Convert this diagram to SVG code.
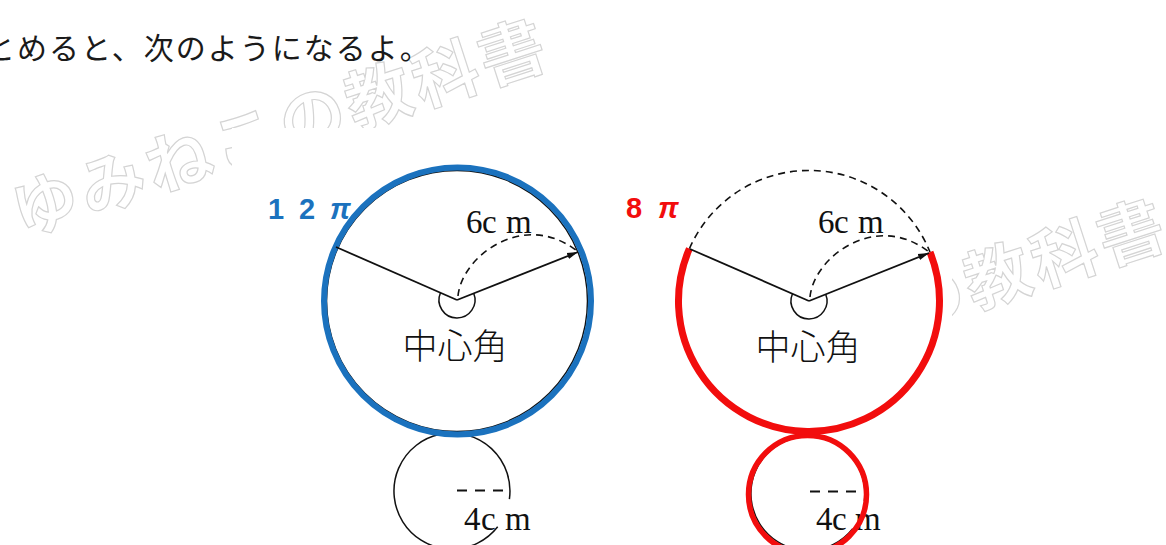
<svg xmlns="http://www.w3.org/2000/svg" width="1166" height="545" viewBox="0 0 1166 545">
<defs>
<style>
.wm{font-family:"Noto Sans CJK JP",sans-serif;font-weight:700;font-size:66px;letter-spacing:4px;fill:#ffffff;stroke:#d4d4d4;stroke-width:1.2px}
.top{font-family:"Noto Sans CJK JP",sans-serif;font-size:30px;letter-spacing:2px;fill:#1a1a1a}
.lbl{font-family:"Liberation Serif","Times New Roman",serif;font-size:33px;fill:#111111}
.kaku{font-family:"Noto Sans CJK JP",sans-serif;font-weight:300;font-size:35px;fill:#111111;text-anchor:middle}
.ln{stroke:#111111;stroke-width:1.8;fill:none}
.thin{stroke:#111111;stroke-width:1.5;fill:none}
.dash{stroke:#111111;stroke-width:1.6;fill:none;stroke-dasharray:7 5}
.dash3{stroke:#111111;stroke-width:1.8;fill:none;stroke-dasharray:10 8}
.blue{stroke:#1B72BE;fill:none}
.red{stroke:#F20D0D;fill:none}
.pi-b{font-family:"Liberation Sans",Arial,sans-serif;font-weight:700;font-size:29px;fill:#1B72BE}
.pi-r{font-family:"Liberation Sans",Arial,sans-serif;font-weight:700;font-size:29px;fill:#F20D0D}
</style>
<marker id="arr" markerWidth="12" markerHeight="8" refX="11" refY="4" orient="auto" markerUnits="userSpaceOnUse">
<path d="M0,0.8 L11,4 L0,7.2 Z" fill="#111111"/>
</marker>
</defs>

<rect x="0" y="0" width="1166" height="545" fill="#ffffff"/>

<g id="watermark">
<text class="wm" transform="translate(46,205) rotate(-18)" x="-33" y="23">ゆみねこの教科書</text>
<text class="wm" transform="translate(665,385) rotate(-18)" x="-33" y="23">ゆみねこの教科書</text>
</g>

<rect id="figure-bg" x="232" y="128" width="720" height="417" fill="#ffffff"/>

<g id="top-text">
<text class="top" x="-15" y="59">とめると、次のようになるよ。</text>
</g>

<g id="left-figure">
<g id="left-small-circle">
<path class="thin" d="M 497.7 526.7 A 58 58 0 1 1 509.4 499.1"/>
<line class="dash3" x1="457" y1="490.5" x2="506" y2="490.5"/>
<text class="lbl" x="464 481 505" y="530">4cm</text>
</g>
<g id="left-big-circle">
<circle class="thin" cx="457" cy="301" r="130.5"/>
<circle class="blue" cx="457.5" cy="301" r="133.5" stroke-width="6"/>
<text class="pi-b" y="219"><tspan x="268">1</tspan><tspan x="299">2</tspan><tspan x="330" font-style="italic">π</tspan></text>
<text class="lbl" x="466 482 506" y="233">6cm</text>
<text class="kaku" x="455" y="359">中心角</text>
<path class="thin" d="M 440.5 292.8 A 18 18 0 1 0 473.7 293.3"/>
</g>
</g>

<g id="right-figure">
<g id="right-small-circle">
<path class="thin" d="M 852.7 528.7 A 57 57 0 1 1 864.4 501.1"/>
<line class="dash3" x1="810" y1="491.5" x2="858" y2="491.5"/>
<text class="lbl" x="816 832 855" y="530">4cm</text>
<circle class="red" cx="807.5" cy="494.5" r="59" stroke-width="5.5"/>
</g>
<g id="right-big-circle">
<path class="dash" stroke-dasharray="7 6" d="M 689.4 248.7 A 130.5 130.5 0 0 1 930 252.1"/>
<path class="red" stroke-width="7" d="M 930 252.1 A 130.5 130.5 0 1 1 689.4 248.7"/>
<text class="pi-r" y="218"><tspan x="626">8</tspan><tspan x="658" font-style="italic">π</tspan></text>
<text class="lbl" x="818 834 858" y="233">6cm</text>
<text class="kaku" x="808" y="360">中心角</text>
<path class="thin" d="M 792.5 293.8 A 18 18 0 1 0 825.7 294.3"/>
</g>
</g>

<g id="connectors">
<line class="ln" x1="457" y1="300" x2="336" y2="247"/>
<line class="ln" x1="457" y1="300" x2="578" y2="252" marker-end="url(#arr)"/>
<path class="dash" d="M 458 296 C 462 255, 525 210, 577 251"/>
<line class="ln" x1="809" y1="301" x2="690" y2="249"/>
<line class="ln" x1="809" y1="301" x2="929" y2="253" marker-end="url(#arr)"/>
<path class="dash" d="M 810 297 C 814 256, 877 211, 929 252"/>
</g>
</svg>
